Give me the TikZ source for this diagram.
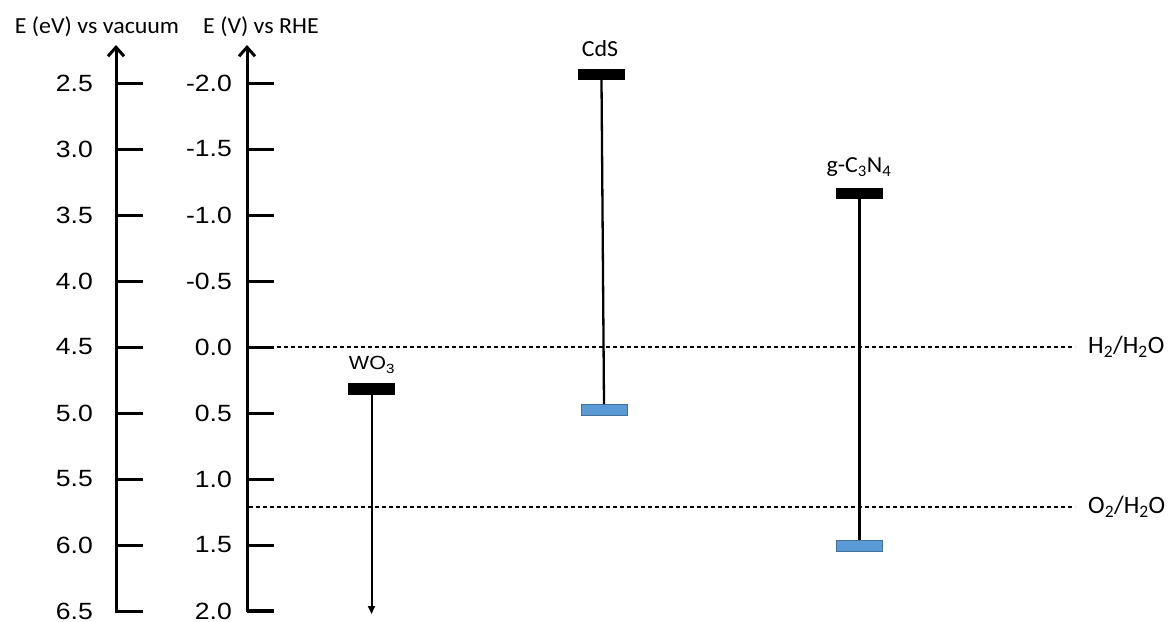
\documentclass[tikz,border=0pt]{standalone}
\usepackage{fontspec}
\setmainfont{Carlito}
\newfontfamily\arialf{Liberation Sans}
\usetikzlibrary{arrows.meta}
\definecolor{vbblue}{HTML}{5B9BD5}
\definecolor{vbedge}{HTML}{41719C}
\begin{document}
\begin{tikzpicture}[x=1pt,y=-1pt,
  axisline/.style={line width=3pt, line join=miter},
  tickl/.style={font=\arialf\fontsize{23.5}{25}\selectfont, anchor=east, inner sep=0pt, xscale=1.13, transform shape},
  axlab/.style={font=\fontsize{23}{25}\selectfont, inner sep=0pt, xscale=1.04, transform shape},
  cb/.style={fill=black, draw=none, minimum width=47pt, minimum height=11pt, inner sep=0pt},
  vb/.style={fill=vbblue, draw=vbedge, line width=1pt, minimum width=46pt, minimum height=11pt, inner sep=0pt},
  gapline/.style={line width=2.3pt},
  redox/.style={dash pattern=on 4pt off 3pt, line width=1.2pt},
  lab/.style={font=\fontsize{23}{25}\selectfont, inner sep=0pt, xscale=1.04, transform shape},
  redlab/.style={font=\fontsize{25}{27}\selectfont, inner sep=0pt, anchor=west}]
\useasboundingbox (0,0) rectangle (1174,621);

% axes
\draw[axisline, -{Straight Barb[length=9pt,width=16pt,line width=3pt]}] (143,611) -- (116,611) -- (116,45);
\draw[axisline, -{Straight Barb[length=9pt,width=16pt,line width=3pt]}] (274,610) -- (247,610) -- (247,45);
\foreach \y/\a/\b in {83/2.5/-2.0,149/3.0/-1.5,215/3.5/-1.0,281/4.0/-0.5,347/4.5/0.0,413/5.0/0.5,479/5.5/1.0,545/6.0/1.5,611/6.5/2.0}{
  \draw[axisline] (116,\y) -- (143,\y);
  \draw[axisline] (247,\y) -- (274,\y);
  \node[tickl] at (93,\y) {\a};
  \node[tickl] at (232,\y) {\b};
}
\node[axlab] (vaclab) at (97,27) {E (eV) vs vacuum};
\node[axlab] (rhelab) at (261,27) {E (V) vs RHE};

% redox levels
\coordinate (h2s) at (249,347);
\coordinate (h2e) at (1075,347);
\coordinate (o2s) at (249,507);
\coordinate (o2e) at (1075,507);
\draw[redox] (h2s) -- (h2e);
\draw[redox] (o2s) -- (o2e);
\node[redlab] (h2lab) at (1088,347) {H\textsubscript{2}/H\textsubscript{2}O};
\node[redlab] (o2lab) at (1088,507) {O\textsubscript{2}/H\textsubscript{2}O};

% WO3
\node[cb, minimum height=12pt] (wocb) at (371.5,388.5) {};
\node[lab, font=\arialf\fontsize{19}{21}\selectfont, xscale=1.09] (wolab) at (372,365) {WO\textsubscript{3}};
\coordinate (woend) at (371.5,614);
\draw[gapline, line width=2pt, -{Triangle[length=8pt,width=7pt]}] (wocb.south) -- (woend);

% CdS
\node[cb] (cdscb) at (601.5,74.5) {};
\node[vb] (cdsvb) at (604,410) {};
\node[lab] (cdslab) at (600,49) {CdS};
\draw[gapline] (cdscb.south) -- (cdsvb.north);

% g-C3N4
\node[cb] (cncb) at (859.5,193.5) {};
\node[vb] (cnvb) at (859.5,546) {};
\node[lab] (cnlab) at (859,167) {g-C\textsubscript{3}N\textsubscript{4}};
\draw[gapline] (cncb.south) -- (cnvb.north);
\end{tikzpicture}
\end{document}
